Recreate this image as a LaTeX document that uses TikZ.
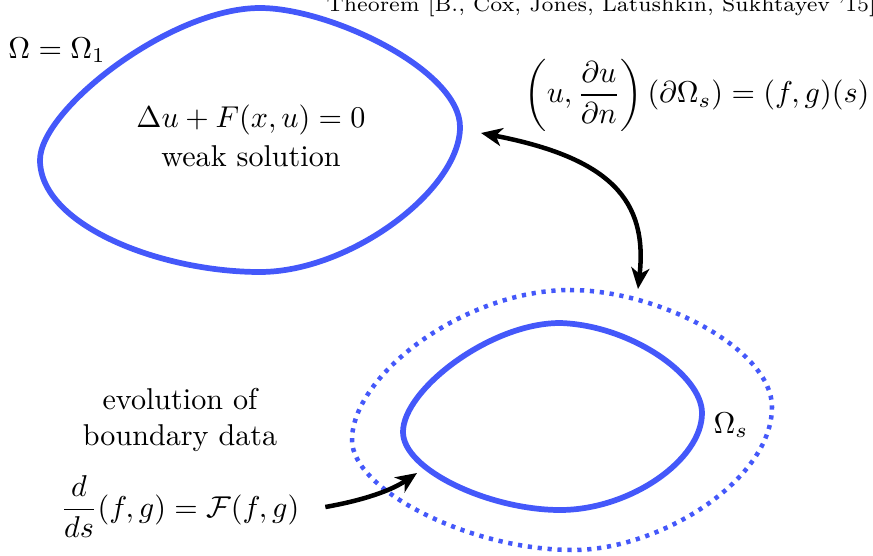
\documentclass[tikz,border=0pt]{standalone}
\usepackage{amsmath}
\usetikzlibrary{arrows.meta,positioning}
\definecolor{regionblue}{RGB}{68,88,250}

\begin{document}
\begin{tikzpicture}[x=0.01167cm,y=-0.01167cm,
  region/.style={draw=regionblue,line width=1.9pt},
  shell/.style={draw=regionblue,line width=1.5pt,dash pattern=on 1.4pt off 1.9pt},
  flow/.style={-{Stealth[length=7pt,width=6pt,inset=2pt]},line width=1.5pt},
  twoway/.style={{Stealth[length=7pt,width=6pt,inset=2pt]}-{Stealth[length=7pt,width=6pt,inset=2pt]},line width=1.5pt},
  lbl/.style={align=center,inner sep=1pt}
]
\useasboundingbox (0,0) rectangle (873,555);
% domain Omega_1
\draw[region] (260,8) .. controls (330,8) and (460,70) .. (460,127)
  .. controls (460,190) and (350,272) .. (260,272)
  .. controls (160,272) and (40,225) .. (40,160)
  .. controls (40,110) and (170,8) .. (260,8) -- cycle;
% domain Omega_s and its shell
\draw[region] (560,323) .. controls (630,325) and (702,375) .. (702,413)
  .. controls (702,460) and (630,510) .. (560,510)
  .. controls (490,510) and (403,470) .. (403,432)
  .. controls (403,390) and (490,323) .. (560,323) -- cycle;
\draw[shell] (570,290) .. controls (660,290) and (772,350) .. (772,407)
  .. controls (772,480) and (660,550) .. (573,550)
  .. controls (470,550) and (352,490) .. (352,440)
  .. controls (352,375) and (465,290) .. (570,290) -- cycle;
% labels
\node[anchor=base west,font=\scriptsize,inner sep=0pt] (cite) at (326,11) {Theorem [B., Cox, Jones, Latushkin, Sukhtayev '15]};
\node[lbl] (omone) at (57,50) {$\Omega=\Omega_1$};
\node[lbl] (pde) at (251,136) {$\Delta u+F(x,u)=0$\\[1pt] weak solution};
\node[lbl] (trace) at (697,95) {$\left(u,\dfrac{\partial u}{\partial n}\right)(\partial\Omega_s)=(f,g)(s)$};
\node[lbl] (oms) at (731,425) {$\Omega_s$};
\node[lbl] (evol) at (180,507) {$\dfrac{d}{ds}(f,g)=\mathcal{F}(f,g)$};
\node[lbl,above=2mm of evol] (evtext) {evolution of\\ boundary data};
% connectors
\coordinate (bdone) at (481,133);
\coordinate (bdshell) at (638,289);
\coordinate (bdinner) at (417,473);
\draw[twoway] (bdone) .. controls (610,158) and (648,200) .. (bdshell);
\draw[flow] ([xshift=2.6mm]evol.east) .. controls (365,500) and (392,490) .. (bdinner);
\end{tikzpicture}
\end{document}
